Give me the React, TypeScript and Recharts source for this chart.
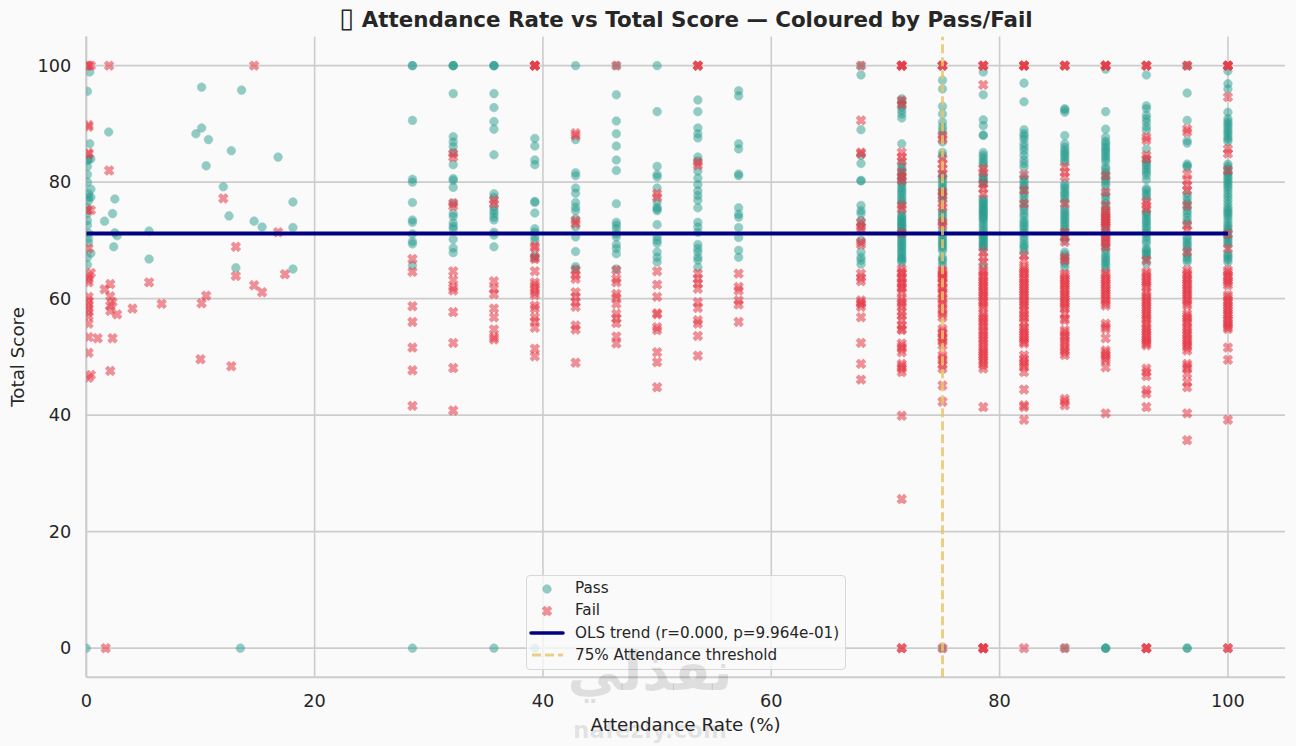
import React from 'react';
import {
	ScatterChart, Scatter, XAxis, YAxis, CartesianGrid, Legend,
} from 'recharts';

const FONT = '"DejaVu Sans", sans-serif';
const PASS_COLOR = '#2a9d8f';
const FAIL_COLOR = '#e63946';
const TREND_COLOR = '#000080';
const THRESHOLD_COLOR = '#e9c46a';

const xTicks = [0, 20, 40, 60, 80, 100];
const yTicks = [0, 20, 40, 60, 80, 100];
const trendLine = [{ x: 0, y: 71.18 }, { x: 100, y: 71.18 }];
const thresholdLine = [{ x: 75, y: -5 }, { x: 75, y: 105 }];

// students with irregular attendance below 20%, read as [attendance, score]
const passLow: [number, number][] = [
	[0, 0], [13.5, 0], [10.1, 96.3], [13.6, 95.8], [0.3, 98.9], [0.1, 95.6], [1.96, 88.6], [10.1, 89.3], [9.6, 88.3],
	[10.7, 87.3], [12.7, 85.4], [16.8, 84.3], [10.5, 82.8], [12, 79.2], [18.1, 76.6], [2.5, 77.1], [2.3, 74.6],
	[1.6, 73.3], [12.5, 74.2], [14.7, 73.3], [15.4, 72.3], [18.1, 72.2], [2.5, 71.3], [2.7, 70.8], [5.5, 71.6],
	[2.4, 68.9], [5.5, 66.8], [13.1, 65.3], [18.1, 65.1], [0.3, 86.6], [0.2, 83.9], [0.4, 84], [0.1, 82.7], [0.1, 81.3],
	[0.1, 80], [0.4, 78.8], [0.2, 78], [0.2, 77.4], [0.4, 77.4], [0.2, 76.8], [0.1, 75.7], [0.1, 74.6], [0.1, 73.4],
	[0.1, 72.6], [0.2, 71.2], [0.2, 70.3], [0.2, 69.6], [0.4, 67.8], [0.1, 67.1], [0.1, 65.8], [0.1, 83.7],
];
const failLow: [number, number][] = [
	[1.7, 0], [0.1, 100], [0.2, 100], [0.4, 100], [2, 100], [14.7, 100], [0.2, 89.5], [0.2, 89.8], [0.2, 85], [0.2, 84.8],
	[2, 82], [12, 77.2], [0.4, 75.2], [0.1, 75.2], [16.8, 71.4], [13.1, 68.9], [0.2, 68.6], [13.1, 63.9], [17.4, 64.2],
	[0.4, 64.4], [0.2, 63.9], [0.2, 63.3], [0.2, 62.8], [2.1, 62.5], [1.6, 61.6], [14.7, 62.3], [15.4, 61.1], [5.5, 62.8],
	[10.5, 60.5], [10.1, 59.2], [6.6, 59.1], [4.05, 58.3], [2.1, 60.4], [2.3, 59.4], [2.1, 58.8], [2.1, 57.9], [2.7, 57.3],
	[0.2, 60.3], [0.2, 59.6], [0.2, 59], [0.2, 58.3], [0.2, 57.7], [0.2, 57], [0.2, 55.7], [0.2, 53.4], [1, 53.2], [2.3, 53.2],
	[0.2, 50.7], [10, 49.6], [12.7, 48.4], [2.1, 47.6], [0.4, 46.9], [0.2, 46.4],
];

// the rest of the students sit on discrete attendance levels
const passLevels: [number, number[]][] = [
	[28.57, [100, 100, 90.6, 80.5, 80, 76.5, 73.5, 73.1, 71.1, 69.8, 69.4, 65.7, 0]],
	[32.14, [100, 100, 100, 95.2, 87.8, 86.9, 86.1, 85.1, 83, 80.6, 80.3, 79.1, 76.4, 74.6, 74.1, 73, 72.4, 72, 70.2, 68.7, 67.9]],
	[35.71, [100, 100, 100, 95.2, 92.8, 90.4, 89.1, 84.7, 78, 77.4, 75.7, 75.1, 74.6, 74, 73.5, 71.4, 70.9, 68.9, 0]],
	[39.29, [87.5, 86.2, 83.8, 83, 76.7, 76.5, 74.7, 72, 71.4, 70.6, 70, 67.4, 67, 0]],
	[42.86, [100, 87.3, 81.6, 81.1, 79, 78.1, 76.5, 75.7, 75.1, 73.7, 72.3, 70.6, 68.1, 65.5, 65.1]],
	[46.43, [100, 95, 90.5, 88.3, 86.2, 83.8, 82, 76.3, 73.1, 72.6, 72, 71.1, 70.6, 69.3, 68.6, 67.7, 65.1]],
	[50, [100, 92.1, 82.7, 81.3, 80.9, 79, 76.6, 75.7, 75.4, 75.1, 72.7, 70.6, 70, 69.5, 68, 67.1, 66.3]],
	[53.57, [94.1, 92.1, 89.3, 88.3, 87.6, 84.3, 83.6, 81.9, 80.7, 79.6, 78.5, 77.7, 76.9, 75.6, 73.1, 72.3, 71.4, 69.3, 68.6, 68, 67.1, 66.6, 65.4]],
	[57.14, [95.7, 94.8, 86.6, 85.7, 81.4, 81.1, 75.6, 74.5, 74, 72.2, 70.5, 68.3, 67.1]],
	[67.86, [100, 98.4, 89, 84.6, 83.2, 80.3, 80.2, 76, 75.1, 74.6, 73.4, 72.6, 70, 68, 67.1, 66.6, 65.9]],
	[71.43, [94.3, 93.9, 93.4, 92.9, 92.3, 91.7, 91, 86.6, 83.2, 82.6, 82.1, 81.7, 81.3, 80.9, 80.4, 80, 79.6, 79.1, 78.7, 78.3, 77.9, 77.4, 77, 76.6, 76.2, 74.9, 74.3, 74, 73.7, 73.4, 73.1, 72.8, 72.6, 72.3, 72, 71.6, 71.2, 70.8, 70.4, 70, 69.7, 69.3, 69, 68.6, 68.2, 67.9, 67.5, 67.1, 66.8, 66.6, 66.2]],
	[75, [97.5, 96, 93, 91.7, 90.3, 89.5, 88.9, 88.2, 86.9, 85.1, 84.6, 81.2, 80.9, 80.5, 80, 79.6, 79.1, 78.7, 78.3, 77.9, 77.4, 76.9, 75.1, 74.7, 74.3, 73.9, 73.4, 72.9, 71.7, 71.3, 70.9, 70.4, 70, 69.7, 69.3, 69, 68.6, 68.2, 67.1, 66.7, 66.3, 65.7, 0]],
	[78.57, [98.9, 95, 90.7, 89.7, 88.1, 88, 85.1, 84.6, 84.2, 83.7, 83.3, 82.9, 81.4, 80.9, 80.6, 80.3, 80, 79.7, 77.2, 76.9, 76.6, 76.3, 76, 75.7, 75.4, 75.1, 74.9, 74.6, 74.3, 74, 73.7, 73.4, 72.9, 72.5, 72, 71.6, 71.1, 70.8, 70.6, 70.3, 70, 69.7, 69.4, 69.1, 68.9, 68.5, 65.7]],
	[82.14, [97, 93.8, 89, 88.3, 87.9, 87.4, 86.6, 86, 85.4, 84.6, 83.8, 83.2, 82.6, 81, 80.4, 80, 79.5, 79.1, 78.6, 78, 77.5, 76.9, 76.3, 75.7, 75.2, 74.6, 74.1, 73.4, 73, 72.6, 72.2, 71.7, 71.2, 70.6, 70, 69.4, 69, 68.6, 68]],
	[85.71, [92.6, 92.4, 92, 88, 86.6, 86, 85.5, 85.1, 84.7, 84.3, 83.8, 83.4, 79.7, 79.3, 78.9, 78.4, 78, 77.6, 77.1, 76.6, 75.6, 75.1, 74.7, 74.3, 73.9, 73.5, 73.1, 72.7, 72.3, 71.8, 71.3, 70.6, 70, 68, 67.6, 67.1, 66.5, 66, 65.4, 0]],
	[89.29, [99.4, 92.1, 89.1, 87.7, 87, 86.6, 86.1, 85.7, 85.3, 84.9, 84.4, 84, 83.5, 82.6, 82.2, 81.7, 81.2, 80.7, 80.3, 79.8, 79.4, 78.2, 77.6, 77, 76.4, 75.8, 75.2, 74.6, 74, 73.4, 72.8, 72.2, 71.5, 70.5, 69.5, 68.9, 68.3, 67.7, 67.2, 66.8, 66.4, 66, 65.6, 65.1, 0, 0, 0]],
	[92.86, [98.4, 93.1, 92.6, 91.5, 90.9, 90.3, 89.5, 88.9, 85.7, 83.9, 83.4, 83, 82.6, 82.1, 81.7, 81.2, 80.4, 78.9, 78.6, 78.1, 77.7, 77.2, 74.9, 74.6, 74.2, 73.7, 73.3, 72.9, 72.4, 72, 71.5, 71.1, 70.6, 70, 69.5, 68.6, 68.3, 68, 67.7, 67.3, 66.9, 66]],
	[96.43, [100, 95.3, 90.6, 87.1, 86.7, 83.1, 82.8, 82.6, 78, 77.4, 76.8, 76.3, 75.7, 75.1, 74.6, 74, 73.4, 72.9, 70.6, 70.2, 69.7, 69.3, 68.9, 68.4, 67.6, 67.1, 66.7, 66.3, 0, 0]],
	[100, [99.1, 96.9, 96, 92, 90.9, 90.4, 90, 89.6, 89.1, 88.7, 88.3, 87.8, 87.4, 87, 83.1, 82.7, 82.3, 81.8, 81.5, 81.1, 80.7, 80.3, 79.9, 79.5, 79.1, 78.6, 78, 77.5, 76.9, 76.3, 75.7, 75.3, 74.9, 74.6, 74.2, 73.7, 73.1, 72.6, 72.2, 71.8, 71.4, 70.8, 70.4, 70, 69.6, 69.2, 67.8, 67.4, 67.1, 66.7, 66.3]],
];
const failLevels: [number, number[]][] = [
	[28.57, [66.8, 64.6, 58.7, 56, 51.6, 47.7, 41.6]],
	[32.14, [84.9, 84.3, 76.4, 75.9, 64.7, 63.2, 61.9, 61.4, 57.7, 52.4, 48.1, 40.8]],
	[35.71, [76.9, 76.3, 63, 61.7, 60.8, 58.3, 56.8, 54.7, 53.4, 53]],
	[39.29, [100, 100, 100, 100, 69, 68.7, 67.1, 66.8, 64.7, 62.8, 62.3, 61.7, 61.1, 60.6, 58.8, 58.3, 56.8, 56.1, 55, 51.4, 50.1]],
	[42.86, [88.4, 88, 73.4, 72.9, 64.9, 64, 63.4, 61.1, 60.3, 59.4, 58.6, 55.4, 54.7, 49]],
	[46.43, [100, 64.9, 63.4, 62.8, 60.8, 60.2, 59.1, 57.4, 56.6, 55.8, 53.5, 52.3]],
	[50, [78, 77.4, 64.7, 62.4, 60.3, 57.5, 57.3, 55.1, 54.6, 50.8, 49.1, 44.8]],
	[53.57, [100, 100, 100, 83.4, 82.9, 64.3, 63.4, 62.6, 61.7, 59.4, 58.4, 56.3, 55.7, 53.6, 50.2]],
	[57.14, [64.3, 62, 61.4, 59.7, 59, 56]],
	[67.86, [100, 90.6, 85.1, 84.9, 73.1, 72.3, 71.8, 69.7, 69.3, 64.3, 63.6, 63, 59.7, 59.3, 59.1, 58.6, 56.8, 52.4, 48.8, 46.1]],
	[71.43, [100, 100, 100, 100, 94, 93.3, 85.1, 84.3, 83.6, 81.7, 80.9, 80.3, 76, 75.4, 71.3, 65.1, 64.6, 64.3, 63.7, 63.4, 62.8, 62.5, 62, 61.7, 61.1, 60, 59.5, 59.1, 58.6, 57.7, 57.1, 56.3, 55.4, 54.8, 54.6, 52.3, 51.8, 51.4, 50.8, 48.8, 48.4, 48, 47.4, 39.9, 25.6, 0, 0]],
	[75, [100, 100, 100, 88, 87.4, 84, 83.1, 82.3, 81.4, 78.3, 77.7, 76.3, 75.7, 73.1, 72.6, 64.9, 64.6, 64.3, 64, 63.7, 63.4, 62.8, 62.6, 62, 61.6, 61.1, 60.8, 60, 59.5, 59.1, 58.3, 57.9, 57.3, 56.8, 54.8, 54.3, 54, 53.4, 53.1, 52.6, 52, 50.3, 49.8, 49.4, 48.6, 48, 45.1, 42.3, 0]],
	[78.57, [100, 100, 100, 96.7, 82.3, 81.7, 79.7, 78.9, 78, 68, 67.1, 66.3, 64.9, 64.5, 64, 63.6, 63.1, 62.7, 62.3, 61.9, 61.4, 61, 60.6, 60.2, 59.7, 59.3, 58.8, 58.4, 57.4, 57, 56.6, 56.1, 55.7, 55.2, 54.6, 54.2, 53.7, 53.2, 52.8, 52.3, 51.7, 51.2, 50.8, 50.4, 50, 49.5, 49.1, 48.6, 48, 41.4, 0, 0, 0, 0]],
	[82.14, [100, 100, 100, 100, 81.3, 78.6, 76.3, 67.4, 66.6, 65.4, 65, 64.6, 64.2, 63.7, 63.3, 62.8, 62.4, 62, 61.5, 61.1, 60.7, 60.3, 59.8, 59.4, 59, 58.6, 58, 57.4, 57, 56.6, 55.9, 55.1, 54.7, 54.3, 53.8, 53.4, 53, 52.6, 52.3, 50.3, 49.7, 49.1, 48.7, 48.3, 47.4, 44.4, 41.7, 41.4, 39.2, 0]],
	[85.71, [100, 100, 100, 82.6, 81.7, 80.9, 76.3, 71.4, 70.6, 69.7, 67.1, 66.6, 64.3, 63.9, 63.4, 63, 62.6, 62.2, 61.7, 61.3, 60.8, 60.4, 60, 59.5, 59.1, 58.7, 58.3, 57.4, 56.6, 56.3, 54.6, 54.2, 53.7, 53.3, 52.8, 52.3, 51.7, 51.2, 50.8, 50.3, 42.8, 42.3, 41.7, 0]],
	[89.29, [100, 100, 100, 100, 81.1, 78.3, 76, 74.9, 74.5, 74, 73.5, 73.1, 72.7, 72.3, 71.1, 70.5, 70, 69.5, 68.9, 64.4, 64, 63.5, 63.1, 62.7, 62.3, 61.8, 61.4, 61, 60.6, 60.1, 59.7, 59.2, 58.8, 55.7, 55.2, 54.8, 53.2, 51.1, 50.7, 50.3, 49.8, 49.4, 48.2, 40.3]],
	[92.86, [100, 100, 100, 87.7, 87.2, 84.6, 84, 76.6, 76, 75.4, 66.6, 64.6, 64.2, 63.7, 63.2, 62.8, 62.4, 62, 61.1, 60.6, 60.1, 59.7, 59.3, 58.8, 58.4, 58, 57.5, 57.1, 56.7, 56.3, 55.7, 55.1, 54.7, 54.3, 53.8, 53.4, 53, 52.6, 52.3, 52, 48, 47.4, 46.7, 44.3, 43.7, 41.4, 0, 0, 0]],
	[96.43, [100, 100, 89.1, 88.6, 81.4, 80.3, 79.4, 78.6, 76, 72.6, 71.7, 68, 64.9, 64.4, 64, 63.5, 63.1, 62.7, 62.3, 61.8, 61.4, 61, 60.6, 60.1, 59.7, 59.2, 58.8, 57.4, 57, 56.6, 56.1, 55.7, 55.1, 54.6, 54.1, 53.7, 53.2, 52.8, 52.4, 52, 51.6, 51.1, 48.8, 48.4, 48, 47.1, 45.7, 44.8, 40.3, 35.7]],
	[100, [100, 100, 100, 100, 94.6, 85.7, 84.9, 82, 71.1, 68.6, 64.9, 64.5, 64, 63.6, 63.1, 62.7, 62.3, 60.6, 60.2, 59.7, 59.3, 58.8, 58.4, 58, 57.5, 57.1, 56.7, 56.3, 55.8, 55.4, 55.1, 54.8, 51.6, 49.5, 39.2, 0, 0]],
];

const toPoints = (low: [number, number][], levels: [number, number[]][]) => [
	...low.map(([x, y]) => ({ x, y })),
	...levels.flatMap(([x, scores]) => scores.map((y) => ({ x, y }))),
];
const passData = toPoints(passLow, passLevels);
const failData = toPoints(failLow, failLevels);

const PassDot = ({ cx, cy }: any) => (
	<circle cx={cx} cy={cy} r={4.3} fill={PASS_COLOR} stroke={PASS_COLOR} strokeWidth={0.6} opacity={0.5} />
);

const FailCross = ({ cx, cy }: any) => (
	<path
		transform={`translate(${cx},${cy}) scale(9.2)`}
		d="M-.25-.5 0-.25 .25-.5 .5-.25 .25 0 .5 .25 .25 .5 0 .25 -.25 .5 -.5 .25 -.25 0 -.5-.25Z"
		fill={FAIL_COLOR}
		stroke={FAIL_COLOR}
		strokeWidth={0.11}
		strokeLinejoin="round"
		opacity={0.55}
	/>
);

const NoMark = () => null;

const LegendPanel = () => {
	const rowStyle: React.CSSProperties = { position: 'absolute', left: 48, whiteSpace: 'nowrap', lineHeight: '18px' };
	return (
		<div style={{
			position: 'relative', width: 320, height: 95, boxSizing: 'border-box', fontFamily: FONT, fontSize: 15.2, color: '#262626',
			background: 'rgba(250,250,250,0.8)', border: '1.5px solid #d8d8d8', borderRadius: 4,
		}}>
			<svg width={320} height={95} style={{ position: 'absolute', left: -1, top: -1 }}>
				<PassDot cx={21} cy={14} />
				<FailCross cx={21} cy={36} />
				<line x1={5} x2={37} y1={58} y2={58} stroke={TREND_COLOR} strokeWidth={3.5} strokeLinecap="round" />
				<line x1={6} x2={37} y1={80} y2={80} stroke={THRESHOLD_COLOR} strokeOpacity={0.8} strokeWidth={2.8} strokeDasharray="9 4" />
			</svg>
			<span style={{ ...rowStyle, top: 3 }}>Pass</span>
			<span style={{ ...rowStyle, top: 25 }}>Fail</span>
			<span style={{ ...rowStyle, top: 48 }}>OLS trend (r=0.000, p=9.964e-01)</span>
			<span style={{ ...rowStyle, top: 70 }}>75% Attendance threshold</span>
		</div>
	);
};

export default function App() {
	return (
		<div style={{ position: 'absolute', left: 0, top: 0, width: 1296, height: 746, background: '#fafafa', fontFamily: FONT, overflow: 'hidden' }}>
			<div style={{ position: 'absolute', left: 0, width: 1372, top: 7, textAlign: 'center', fontWeight: 700, fontSize: 21.4, lineHeight: '26px', color: '#262626', whiteSpace: 'nowrap' }}>
				<span style={{ fontSize: 27, fontWeight: 400, lineHeight: 0 }}>▯</span> Attendance Rate vs Total Score — Coloured by Pass/Fail
			</div>
			<ScatterChart width={1296} height={746} margin={{ top: 36.5, right: 11, bottom: 0, left: 0 }} style={{ fontFamily: FONT }}>
				<CartesianGrid stroke="#cccccc" strokeWidth={1.6} syncWithTicks />
				<XAxis
					type="number"
					dataKey="x"
					domain={[0, 105]}
					ticks={xTicks}
					allowDataOverflow
					height={68.7}
					tickLine={false}
					tickMargin={11}
					axisLine={{ stroke: '#cccccc', strokeWidth: 2 }}
					tick={{ fill: '#262626', fontSize: 17.7 }}
					label={{ value: 'Attendance Rate (%)', position: 'insideBottom', offset: 15, fill: '#262626', fontSize: 18.3 }}
				/>
				<YAxis
					type="number"
					dataKey="y"
					domain={[-5, 105]}
					ticks={yTicks}
					allowDataOverflow
					width={86.3}
					tickLine={false}
					tickMargin={9}
					axisLine={{ stroke: '#cccccc', strokeWidth: 2 }}
					tick={{ fill: '#262626', fontSize: 17.7 }}
					label={{ value: 'Total Score', angle: -90, position: 'insideLeft', offset: 18, fill: '#262626', fontSize: 18.3, style: { textAnchor: 'middle' } }}
				/>
				<Scatter name="Pass" data={passData} shape={PassDot} isAnimationActive={false} />
				<Scatter name="Fail" data={failData} shape={FailCross} isAnimationActive={false} />
				<Scatter
					name="OLS trend"
					data={trendLine}
					shape={NoMark}
					line={{ stroke: TREND_COLOR, strokeWidth: 3.8 }}
					isAnimationActive={false}
				/>
				<Scatter
					name="75% Attendance threshold"
					data={thresholdLine}
					shape={NoMark}
					line={{ stroke: THRESHOLD_COLOR, strokeOpacity: 0.8, strokeWidth: 3, strokeDasharray: '9 4' }}
					isAnimationActive={false}
				/>
				<Legend
					layout="vertical"
					align="center"
					verticalAlign="middle"
					content={LegendPanel}
					wrapperStyle={{ left: 526, top: 575, width: 320, height: 95 }}
				/>
			</ScatterChart>
			<div style={{ position: 'absolute', left: 540, width: 220, top: 640, textAlign: 'center', fontWeight: 700, fontSize: 54, color: 'rgba(0,0,0,0.11)', pointerEvents: 'none' }}>
				نفذلي
			</div>
			<div style={{ position: 'absolute', left: 540, width: 220, top: 717, textAlign: 'center', fontWeight: 700, fontSize: 23, color: 'rgba(0,0,0,0.1)', pointerEvents: 'none' }}>
				nafezly.com
			</div>
		</div>
	);
}
